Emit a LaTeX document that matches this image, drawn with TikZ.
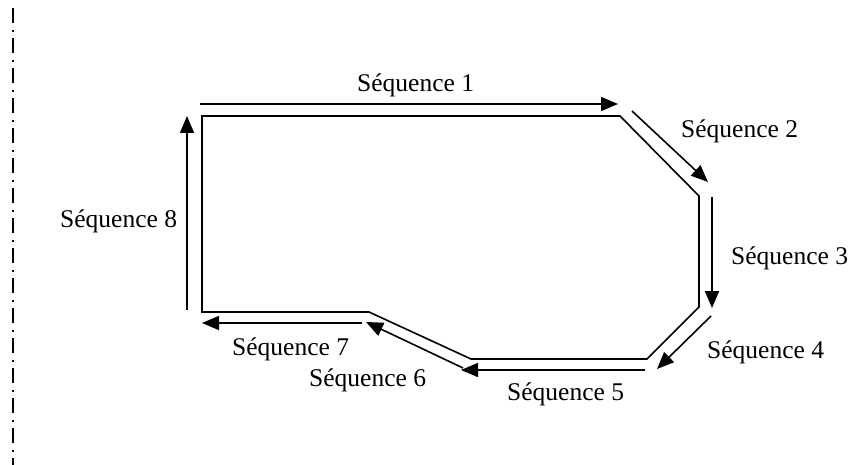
\documentclass[tikz,border=0pt]{standalone}
\usepackage{fontspec}
\setmainfont{Liberation Serif}
\usetikzlibrary{arrows.meta}
\begin{document}
\begin{tikzpicture}[x=1pt,y=-1pt,
  outline/.style={line width=1.6pt,line join=miter},
  seqarrow/.style={line width=1.6pt,-{Triangle[length=17pt,width=14pt]}},
  seqlabel/.style={anchor=base west,inner sep=0pt,font=\fontsize{25.5}{30}\selectfont},
  axisline/.style={line width=1.6pt,dash pattern=on 15pt off 7pt on 1.6pt off 6.4pt}]
\useasboundingbox (0,0) rectangle (854,465);
% left dash-dot line
\coordinate (axtop) at (13,8);
\coordinate (axbot) at (13,465);
\draw[axisline] (axtop) -- (axbot);
% polygon vertices
\coordinate (p1) at (202,116);
\coordinate (p2) at (620,116);
\coordinate (p3) at (699,196);
\coordinate (p4) at (699,307);
\coordinate (p5) at (647,359);
\coordinate (p6) at (471,359);
\coordinate (p7) at (369,312);
\coordinate (p8) at (202,312);
\draw[outline] (p1) -- (p2) -- (p3) -- (p4) -- (p5) -- (p6) -- (p7) -- (p8) -- cycle;
% arrow endpoints
\coordinate (a1s) at (200,104); \coordinate (a1e) at (618,104);
\coordinate (a2s) at (632,111); \coordinate (a2e) at (708,182);
\coordinate (a3s) at (712,197); \coordinate (a3e) at (712,308);
\coordinate (a4s) at (711,316); \coordinate (a4e) at (657,369);
\coordinate (a5s) at (645,370); \coordinate (a5e) at (461,370);
\coordinate (a6s) at (463,368); \coordinate (a6e) at (366,322);
\coordinate (a7s) at (362,323); \coordinate (a7e) at (202,323);
\coordinate (a8s) at (187,310); \coordinate (a8e) at (187,116);
\draw[seqarrow] (a1s) -- (a1e);
\draw[seqarrow] (a2s) -- (a2e);
\draw[seqarrow] (a3s) -- (a3e);
\draw[seqarrow] (a4s) -- (a4e);
\draw[seqarrow] (a5s) -- (a5e);
\draw[seqarrow] (a6s) -- (a6e);
\draw[seqarrow] (a7s) -- (a7e);
\draw[seqarrow] (a8s) -- (a8e);
% labels
\node[seqlabel] (l1) at (357,92) {Séquence 1};
\node[seqlabel] (l2) at (681,138) {Séquence 2};
\node[seqlabel] (l3) at (731,264) {Séquence 3};
\node[seqlabel] (l4) at (707,358) {Séquence 4};
\node[seqlabel] (l5) at (507,400) {Séquence 5};
\node[seqlabel] (l6) at (309,386) {Séquence 6};
\node[seqlabel] (l7) at (232,355) {Séquence 7};
\node[seqlabel] (l8) at (60,228) {Séquence 8};
\end{tikzpicture}
\end{document}
